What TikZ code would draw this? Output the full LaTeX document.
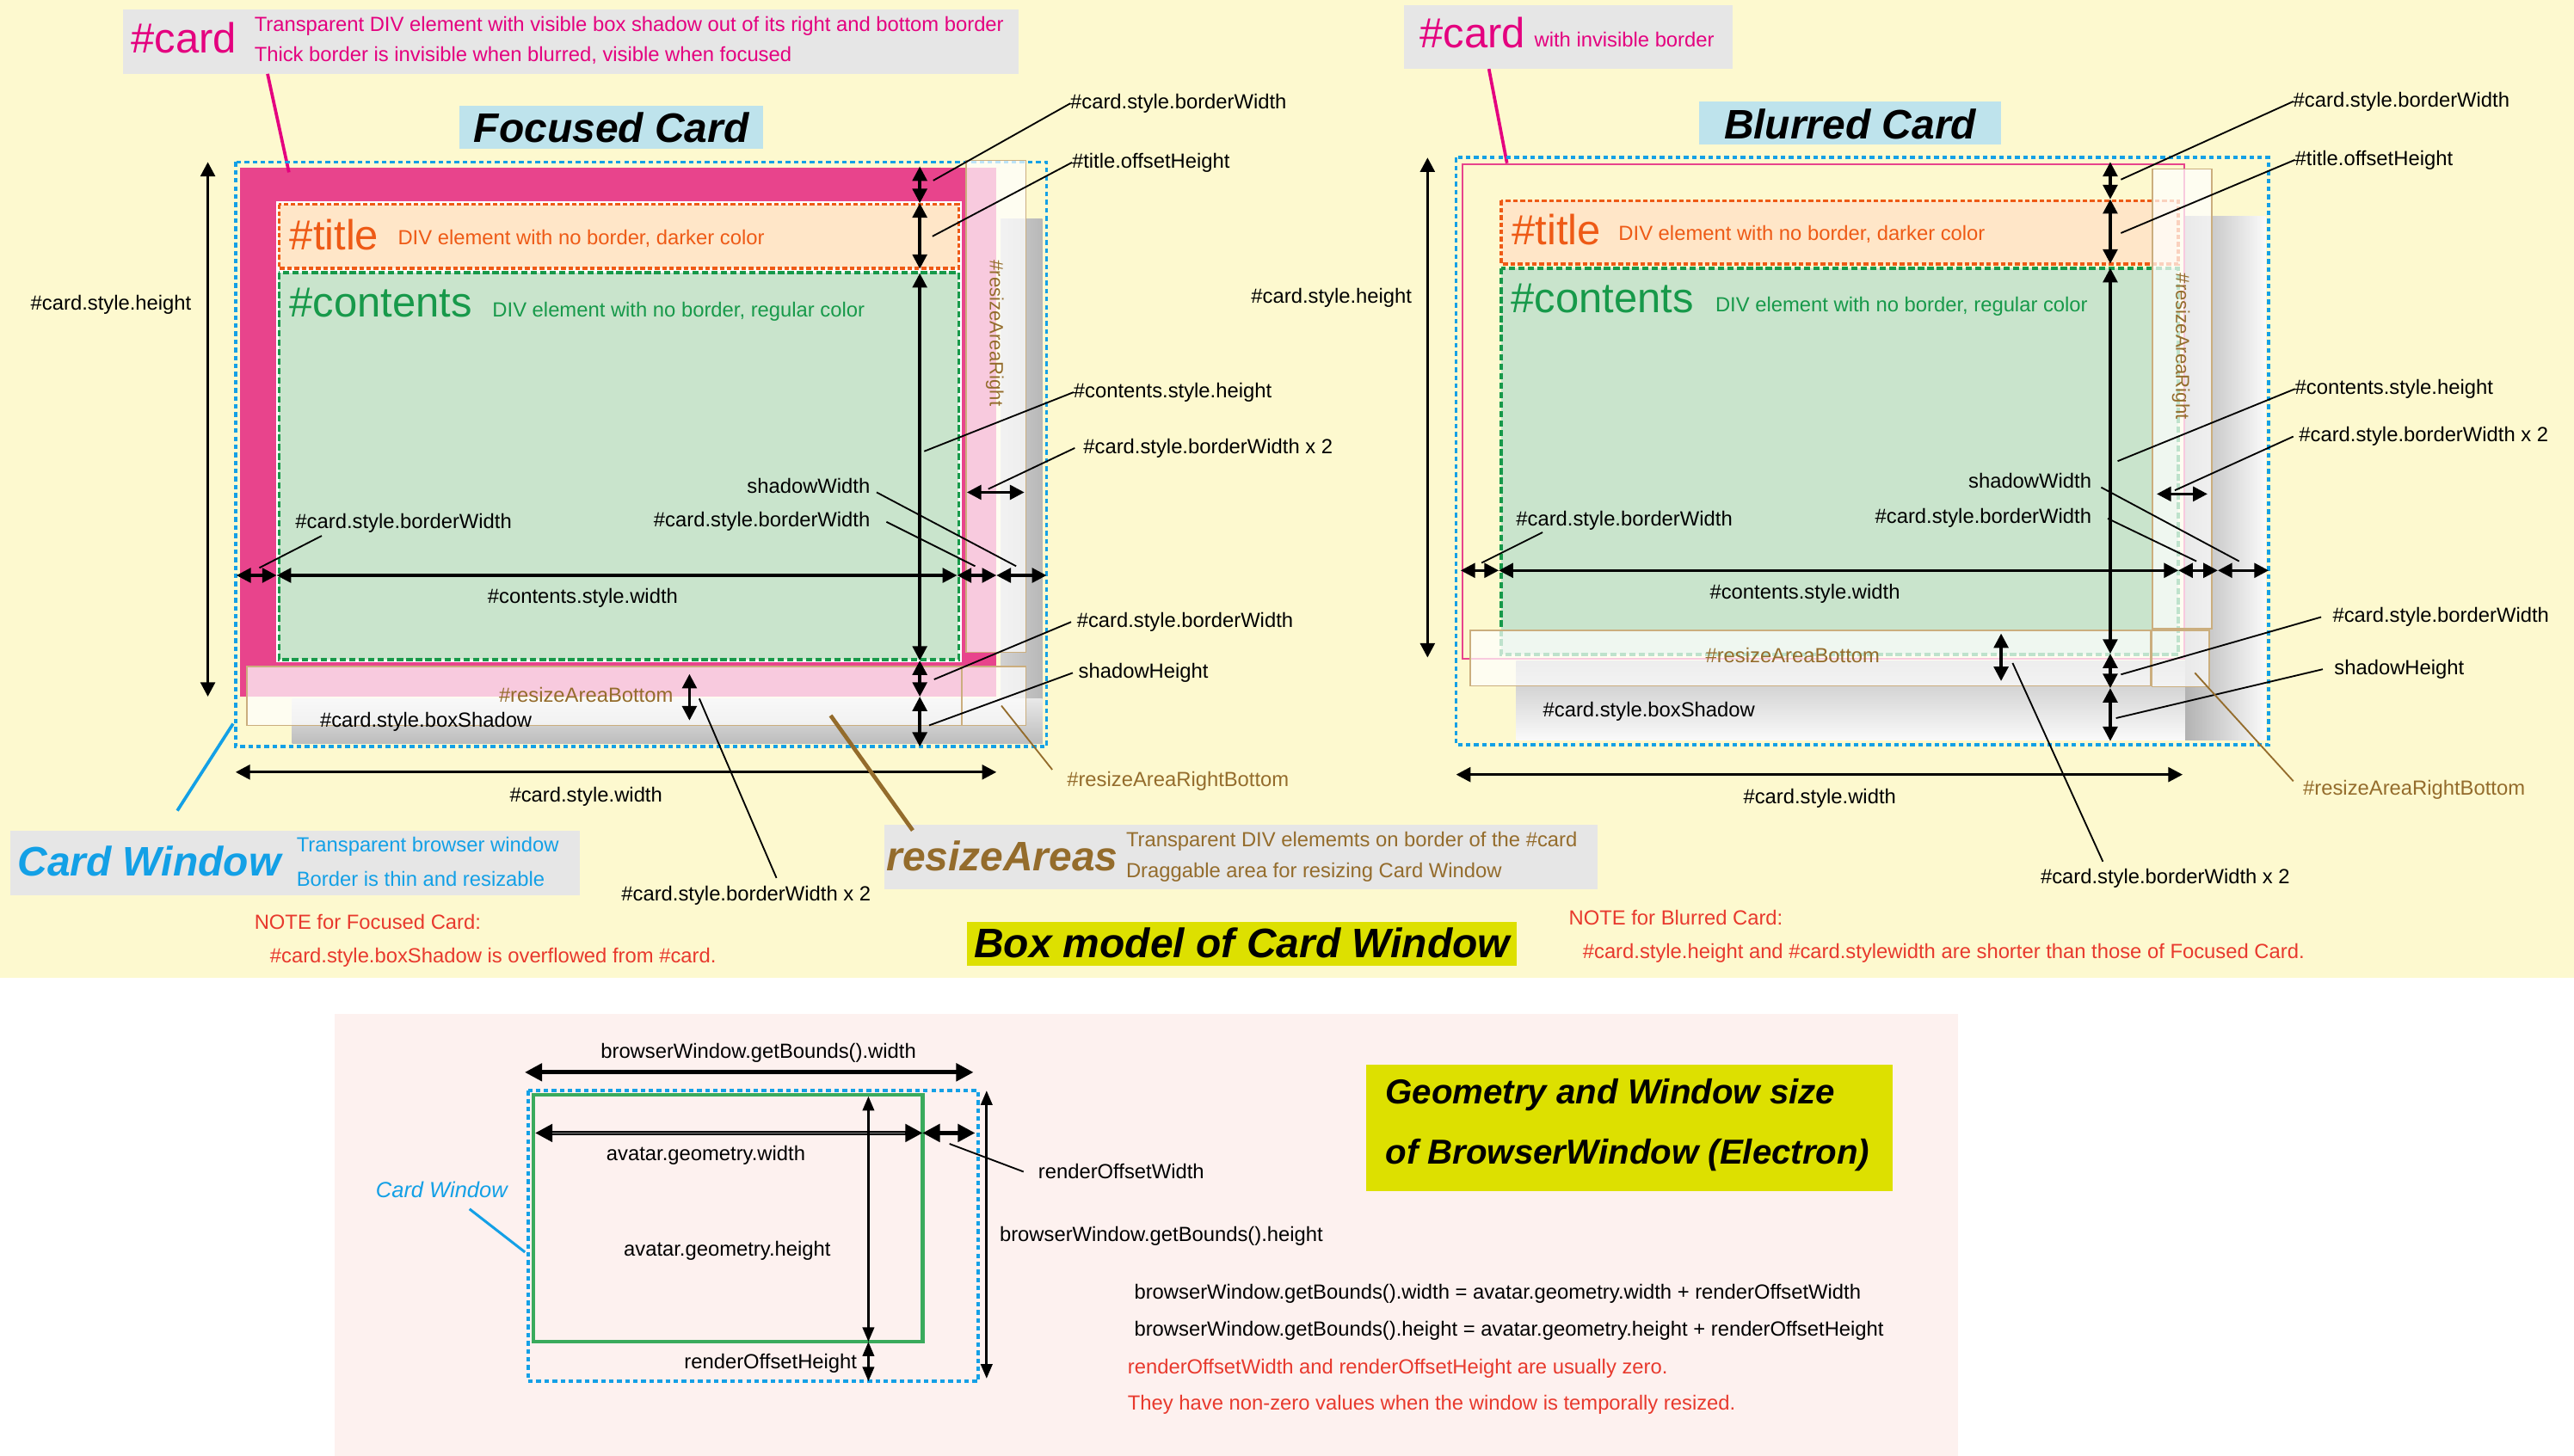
\documentclass[tikz,border=0pt]{standalone}
\usepackage{fontspec}
\setmainfont{Liberation Sans}
\usetikzlibrary{arrows.meta}
\definecolor{bgy}{HTML}{FDF9CF}
\definecolor{bgp}{HTML}{FDF1EF}
\definecolor{boxg}{HTML}{E6E6E6}
\definecolor{lblue}{HTML}{BEE3EC}
\definecolor{ygreen}{HTML}{DDE000}
\definecolor{mag}{HTML}{E8448C}
\definecolor{magt}{HTML}{E4007F}
\definecolor{orng}{HTML}{EE5A16}
\definecolor{titf}{HTML}{FFE6C8}
\definecolor{grn}{HTML}{17994A}
\definecolor{conf}{HTML}{C9E4CC}
\definecolor{cblue}{HTML}{13A0E6}
\definecolor{brn}{HTML}{946C2C}
\definecolor{tanc}{HTML}{CBAE7E}
\definecolor{nred}{HTML}{E8392D}
\definecolor{gline}{HTML}{3AAA5C}
\begin{document}
\begin{tikzpicture}[x=0.02cm,y=-0.02cm,
  every node/.style={inner sep=0pt, outer sep=0pt},
  fs/.style={font=\fontsize{7.1}{8.5}\selectfont},
  lbl/.style={fs, anchor=west},
  lble/.style={fs, anchor=east},
  big/.style={font=\fontsize{14.6}{16}\selectfont, anchor=west},
  ttl/.style={font=\fontsize{14.3}{16}\selectfont\bfseries\itshape},
  tk/.style={{Triangle[length=5pt,width=5pt]}-{Triangle[length=5pt,width=5pt]}, line width=1pt},
  tkb/.style={{Triangle[length=6pt,width=6pt]}-{Triangle[length=6pt,width=6pt]}, line width=1.4pt},
  tkt/.style={{Triangle[length=5pt,width=4pt]}-{Triangle[length=5pt,width=4pt]}, line width=0.8pt},
  wdot/.style={draw=cblue, line width=1.1pt, dash pattern=on 1.6pt off 1.2pt},
  odot/.style={draw=orng, line width=1.1pt, dash pattern=on 1.6pt off 0.9pt},
  gdash/.style={draw=grn, line width=1.1pt, dash pattern=on 2.2pt off 1.1pt},
  ovl/.style={fill=white, fill opacity=0.72, draw=tanc, line width=0.5pt},
  lead/.style={line width=0.55pt},
  bz/.style={brn, line width=0.55pt}
]
\useasboundingbox (0,0) rectangle (1568,887);
% backgrounds
\fill[bgy] (0,0) rectangle (1568,596);
\fill[white] (0,596) rectangle (1568,887);
\fill[bgp] (204,618) rectangle (1193,887);

%================ FOCUSED CARD =================
\fill[boxg] (75.2,6) rectangle (620.6,45);
\node[big, text=magt] (fcardT) at (80,23) {\#card};
\node[lbl, text=magt] (fcardD1) at (155,16) {Transparent DIV element with visible box shadow out of its right and bottom border};
\node[lbl, text=magt] (fcardD2) at (155,33.5) {Thick border is invisible when blurred, visible when focused};
\coordinate (fcardP) at (163,45);
\coordinate (fcardQ) at (176,105);

\fill[lblue] (280,64.3) rectangle (465,90.4);
\node[ttl] (ftitle) at (372.5,77.5) {Focused Card};

% shadow
\shade[left color=black!18, right color=black!28] (609.5,133.6) rectangle (635,453);
\shade[top color=black!9, bottom color=black!26] (178,425.8) rectangle (635,453);
% card
\fill[mag] (146,102) rectangle (607,424.5);
\fill[white] (168.3,122.6) rectangle (586,403.5);
\path[fill=titf, odot] (170,124.5) rectangle (584,163.5);
\path[fill=conf, gdash] (170,166.2) rectangle (584,401.8);
\node[big, text=orng] (ftT) at (176.5,143) {\#title};
\node[lbl, text=orng] (ftD) at (242.4,145.6) {DIV element with no border, darker color};
\node[big, text=grn] (fcT) at (176.4,184.7) {\#contents};
\node[lbl, text=grn] (fcD) at (300,189.8) {DIV element with no border, regular color};
\draw[magt, line width=1.1pt] (fcardP) -- (fcardQ);
% card window
\draw[wdot] (143.5,98.7) rectangle (637.5,455);
% resize areas
\draw[ovl] (588.4,97.8) rectangle (625,397.5);
\draw[ovl] (150.5,406) rectangle (586,442);
\draw[ovl] (586,406) rectangle (625,442);
\node[text=brn, rotate=-90, font=\fontsize{6.6}{8}\selectfont] (frR) at (606,203) {\#resizeAreaRight};
\node[fs, text=brn] (frB) at (357,423.5) {\#resizeAreaBottom};
\node[lbl] (fbs) at (195,440) {\#card.style.boxShadow};

% dimension coordinates
\path (126.6,98.7) coordinate (fh1) (126.6,424.5) coordinate (fh2)
      (143.5,470.5) coordinate (fw1) (607,470.5) coordinate (fw2)
      (144,350.6) coordinate (fr0) (168.5,350.6) coordinate (fr1)
      (583,350.6) coordinate (fr2) (607,350.6) coordinate (fr3) (637.5,350.6) coordinate (fr4)
      (560.3,101.4) coordinate (fv0) (560.3,123.8) coordinate (fv1) (560.3,163.8) coordinate (fv2)
      (560.3,166.5) coordinate (fv3) (560.3,402.5) coordinate (fv4) (560.3,424.5) coordinate (fv5)
      (560.3,455) coordinate (fv6)
      (420,410.7) coordinate (fs1) (420,439) coordinate (fs2)
      (589,300) coordinate (fq1) (624,300) coordinate (fq2);
\draw[tk] (fh1) -- (fh2);
\draw[tk] (fw1) -- (fw2);
\draw[tk] (fr0) -- (fr1);
\draw[tk] (fr1) -- (fr2);
\draw[tk] (fr2) -- (fr3);
\draw[tk] (fr3) -- (fr4);
\draw[tk] (fv0) -- (fv1);
\draw[tk] (fv1) -- (fv2);
\draw[tk] (fv3) -- (fv4);
\draw[tk] (fv4) -- (fv5);
\draw[tk] (fv5) -- (fv6);
\draw[tk] (fs1) -- (fs2);
\draw[tk] (fq1) -- (fq2);

% labels
\node[lble] (fLh) at (116.5,185.7) {\#card.style.height};
\node[fs] (fLw) at (357,485.5) {\#card.style.width};
\node[fs] (fLcw) at (355,364.5) {\#contents.style.width};
\node[lbl] (fL1) at (652,63) {\#card.style.borderWidth};
\node[lbl] (fL2) at (653,99) {\#title.offsetHeight};
\node[lbl] (fL3) at (654,239) {\#contents.style.height};
\node[lbl] (fL4) at (660,273) {\#card.style.borderWidth x 2};
\node[lble] (fL5) at (530,296) {shadowWidth};
\node[lble] (fL6) at (530,317.5) {\#card.style.borderWidth};
\node[lbl] (fL7) at (180,319) {\#card.style.borderWidth};
\node[lbl] (fL8) at (656,379) {\#card.style.borderWidth};
\node[lbl] (fL9) at (657,410) {shadowHeight};
\node[lbl, text=brn] (fL10) at (650,476) {\#resizeAreaRightBottom};
\node[fs] (fL11) at (454.5,545.6) {\#card.style.borderWidth x 2};
\path (568.5,110) coordinate (fp1) (568,144) coordinate (fp2) (563,275) coordinate (fp3)
      (602,298) coordinate (fp4) (534,300) coordinate (fp5a) (619,345) coordinate (fp5)
      (540,318) coordinate (fp6a) (594,345) coordinate (fp6) (196,326.5) coordinate (fp7a)
      (158,346) coordinate (fp7) (569,414) coordinate (fp8) (566,442) coordinate (fp9)
      (610,430) coordinate (fp10) (641,469) coordinate (fp10b) (426,425.7) coordinate (fp11)
      (473,535) coordinate (fp11b);
\draw[lead] (fp1) -- (fL1.west);
\draw[lead] (fp2) -- (fL2.west);
\draw[lead] (fp3) -- (fL3.west);
\draw[lead] (fp4) -- ([xshift=-3pt]fL4.west);
\draw[lead] (fp5a) -- (fp5);
\draw[lead] (fp6a) -- (fp6);
\draw[lead] (fp7a) -- (fp7);
\draw[lead] (fp8) -- ([xshift=-2pt]fL8.west);
\draw[lead] (fp9) -- ([xshift=-2pt]fL9.west);
\draw[bz] (fp10) -- (fp10b);
\draw[lead] (fp11) -- (fp11b);

% Card Window box
\fill[boxg] (6.4,506) rectangle (353,545.6);
\node[ttl, text=cblue, anchor=west] (cwT) at (10.7,525) {Card Window};
\node[lbl, text=cblue] (cwD1) at (180.7,516) {Transparent browser window};
\node[lbl, text=cblue] (cwD2) at (180.7,535.5) {Border is thin and resizable};
\coordinate (cwP) at (142,441);
\coordinate (cwQ) at (108,494);
\draw[cblue, line width=1.1pt] (cwP) -- (cwQ);

% resizeAreas box
\fill[boxg] (538.5,502.8) rectangle (973,542);
\node[ttl, text=brn, anchor=west] (raT) at (540,521.5) {resizeAreas};
\node[lbl, text=brn] (raD1) at (686,512.6) {Transparent DIV elememts on border of the \#card};
\node[lbl, text=brn] (raD2) at (686,531.5) {Draggable area for resizing Card Window};
\coordinate (raP) at (506,436);
\coordinate (raQ) at (556,506);
\draw[brn, line width=1.4pt] (raP) -- (raQ);

% notes
\node[lbl, text=nred] (n1a) at (155,562) {NOTE for Focused Card:};
\node[lbl, text=nred] (n1b) at (164.5,583.5) {\#card.style.boxShadow is overflowed from \#card.};
\fill[ygreen] (589,561.7) rectangle (924,588.4);
\node[ttl] (bm) at (756.5,574.5) {Box model of Card Window};
\node[lbl, text=nred] (n2a) at (955.7,559) {NOTE for Blurred Card:};
\node[lbl, text=nred] (n2b) at (964.2,581) {\#card.style.height and \#card.stylewidth are shorter than those of Focused Card.};

%================ BLURRED CARD =================
\fill[boxg] (855,3) rectangle (1055.7,42);
\node[big, text=magt] (bcardT) at (865,20) {\#card};
\node[lbl, text=magt] (bcardD) at (934.7,24) {with invisible border};
\coordinate (bcardP) at (907,42);
\coordinate (bcardQ) at (918,99.4);
\draw[magt, line width=1.1pt] (bcardP) -- (bcardQ);

\fill[lblue] (1035,62) rectangle (1219,88);
\node[ttl] (btitle) at (1127,75.5) {Blurred Card};

\shade[left color=black!30, right color=black!2] (1331,132) rectangle (1380,451);
\shade[top color=black!24, bottom color=black!2] (923.6,402.5) rectangle (1331,451);
\path[fill=titf, odot] (914.6,122.3) rectangle (1327,160.7);
\path[fill=conf, gdash] (914.6,163.5) rectangle (1327,398.8);
\node[big, text=orng] (btT) at (921,140) {\#title};
\node[lbl, text=orng] (btD) at (986,142.5) {DIV element with no border, darker color};
\node[big, text=grn] (bcT) at (920.5,182) {\#contents};
\node[lbl, text=grn] (bcD) at (1045,186.5) {DIV element with no border, regular color};
\draw[mag, line width=0.6pt] (891,100) rectangle (1330.7,401.6);
\draw[wdot] (887,96) rectangle (1382,454);
\draw[ovl] (1311.3,103) rectangle (1347.5,383);
\draw[ovl] (895.6,384) rectangle (1310,418);
\draw[ovl] (1311,384) rectangle (1345.7,418.5);
\node[text=brn, rotate=-90, font=\fontsize{6.6}{8}\selectfont] (brR) at (1328.5,211) {\#resizeAreaRight};
\node[fs, text=brn] (brB) at (1092,399.5) {\#resizeAreaBottom};
\node[lbl] (bbs) at (940,433.8) {\#card.style.boxShadow};

\path (869.6,96) coordinate (bh1) (869.6,400.7) coordinate (bh2)
      (887,472) coordinate (bw1) (1329.6,472) coordinate (bw2)
      (889.8,347.6) coordinate (br0) (913,347.6) coordinate (br1)
      (1327,347.6) coordinate (br2) (1351,347.6) coordinate (br3) (1382,347.6) coordinate (br4)
      (1285.5,98.7) coordinate (bv0) (1285.5,121.4) coordinate (bv1) (1285.5,160.7) coordinate (bv2)
      (1285.5,163.3) coordinate (bv3) (1285.5,398.3) coordinate (bv4) (1285.5,419.3) coordinate (bv5)
      (1285.5,451.6) coordinate (bv6)
      (1219,386) coordinate (bs1) (1219,415) coordinate (bs2)
      (1313.8,301) coordinate (bq1) (1344.7,301) coordinate (bq2);
\draw[tk] (bh1) -- (bh2);
\draw[tk] (bw1) -- (bw2);
\draw[tk] (br0) -- (br1);
\draw[tk] (br1) -- (br2);
\draw[tk] (br2) -- (br3);
\draw[tk] (br3) -- (br4);
\draw[tk] (bv0) -- (bv1);
\draw[tk] (bv1) -- (bv2);
\draw[tk] (bv3) -- (bv4);
\draw[tk] (bv4) -- (bv5);
\draw[tk] (bv5) -- (bv6);
\draw[tk] (bs1) -- (bs2);
\draw[tk] (bq1) -- (bq2);

\node[lble] (bLh) at (860,181.7) {\#card.style.height};
\node[fs] (bLw) at (1108.5,486.6) {\#card.style.width};
\node[fs] (bLcw) at (1099.5,362) {\#contents.style.width};
\node[lbl] (bL1) at (1397,61.8) {\#card.style.borderWidth};
\node[lbl] (bL2) at (1398,97.4) {\#title.offsetHeight};
\node[lbl] (bL3) at (1398,237) {\#contents.style.height};
\node[lbl] (bL4) at (1400.5,266) {\#card.style.borderWidth x 2};
\node[lble] (bL5) at (1274,293) {shadowWidth};
\node[lble] (bL6) at (1274,315.6) {\#card.style.borderWidth};
\node[lbl] (bL7) at (923.6,317) {\#card.style.borderWidth};
\node[lbl] (bL8) at (1421,376) {\#card.style.borderWidth};
\node[lbl] (bL9) at (1422,407.8) {shadowHeight};
\node[lbl, text=brn] (bL10) at (1403,481) {\#resizeAreaRightBottom};
\node[fs] (bL11) at (1319,535) {\#card.style.borderWidth x 2};
\path (1292,109.4) coordinate (bp1) (1292,142) coordinate (bp2) (1290,281) coordinate (bp3)
      (1324.8,298.8) coordinate (bp4) (1280,297) coordinate (bp5a) (1364,342) coordinate (bp5)
      (1284,316) coordinate (bp6a) (1338,342) coordinate (bp6) (939.7,324.4) coordinate (bp7a)
      (902.5,343) coordinate (bp7) (1292,411) coordinate (bp8) (1289,437.6) coordinate (bp9)
      (1337,410) coordinate (bp10) (1397,476) coordinate (bp10b) (1226,404) coordinate (bp11)
      (1281,525) coordinate (bp11b);
\draw[lead] (bp1) -- (bL1.west);
\draw[lead] (bp2) -- (bL2.west);
\draw[lead] (bp3) -- (bL3.west);
\draw[lead] (bp4) -- ([xshift=-2pt]bL4.west);
\draw[lead] (bp5a) -- (bp5);
\draw[lead] (bp6a) -- (bp6);
\draw[lead] (bp7a) -- (bp7);
\draw[lead] (bp8) -- ([xshift=-4pt]bL8.west);
\draw[lead] (bp9) -- ([xshift=-4pt]bL9.west);
\draw[bz] (bp10) -- (bp10b);
\draw[lead] (bp11) -- (bp11b);

%================ BOTTOM SECTION =================
\draw[wdot] (321.8,664.6) rectangle (596,841.7);
\draw[gline, line width=1.3pt] (325,667) rectangle (562,817.6);
\path (319.7,653.4) coordinate (gw1) (593,653.4) coordinate (gw2)
      (326,690.4) coordinate (ga1) (562,690.4) coordinate (ga2) (594,690.4) coordinate (ga3)
      (529,668) coordinate (gh1) (529,817.6) coordinate (gh2) (529,841.7) coordinate (gh3)
      (601,664.6) coordinate (gb1) (601,840) coordinate (gb2);
\draw[tkb] (gw1) -- (gw2);
\draw[tkb] (ga1) -- (ga2);
\draw[black!45, line width=0.5pt, shorten <=6pt, shorten >=6pt] (ga1) -- (ga2);
\draw[tkb] (ga2) -- (ga3);
\draw[tkt] (gh1) -- (gh2);
\draw[tkt] (gh2) -- (gh3);
\draw[tkt] (gb1) -- (gb2);
\node[fs] (gLw) at (462,641.8) {browserWindow.getBounds().width};
\node[fs] (gLaw) at (430,704) {avatar.geometry.width};
\node[fs] (gLah) at (443,762) {avatar.geometry.height};
\node[lble] (gLrh) at (522,830.8) {renderOffsetHeight};
\node[lbl] (gLrw) at (632.5,714) {renderOffsetWidth};
\node[lbl] (gLbh) at (609,753) {browserWindow.getBounds().height};
\coordinate (grw1) at (578.4,697);
\coordinate (grw2) at (623.5,714);
\draw[lead] (grw1) -- (grw2);
\node[text=cblue, font=\fontsize{7.6}{9}\selectfont\itshape] (gcw) at (269,725) {Card Window};
\coordinate (gcw1) at (286,736.7);
\coordinate (gcw2) at (319.8,763);
\draw[cblue, line width=0.9pt] (gcw1) -- (gcw2);
\fill[ygreen] (832,649) rectangle (1153,726);
\node[anchor=west, font=\fontsize{12}{14}\selectfont\bfseries\itshape] (gT1) at (844,667) {Geometry and Window size};
\node[anchor=west, font=\fontsize{12}{14}\selectfont\bfseries\itshape] (gT2) at (844,704) {of BrowserWindow (Electron)};
\node[lbl] (ge1) at (691,788.5) {browserWindow.getBounds().width = avatar.geometry.width + renderOffsetWidth};
\node[lbl] (ge2) at (691,811) {browserWindow.getBounds().height = avatar.geometry.height + renderOffsetHeight};
\node[lbl, text=nred] (ge3) at (687,834) {renderOffsetWidth and renderOffsetHeight are usually zero.};
\node[lbl, text=nred] (ge4) at (687,856) {They have non-zero values when the window is temporally resized.};
\end{tikzpicture}
\end{document}
